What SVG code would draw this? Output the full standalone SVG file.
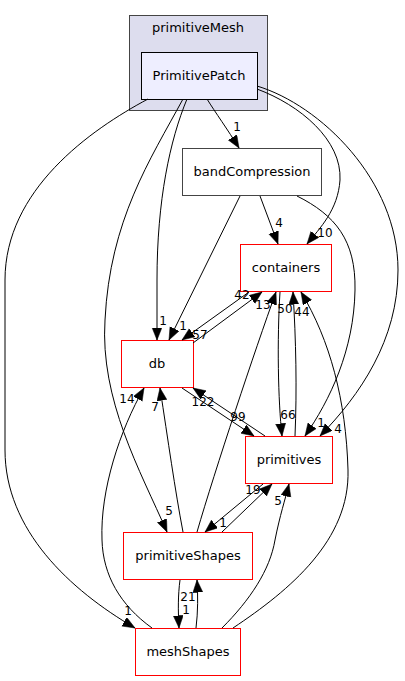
<svg xmlns="http://www.w3.org/2000/svg" width="405" height="681" viewBox="0 0 405 681">
<style>
text{font-family:"DejaVu Sans","Liberation Sans",sans-serif;fill:#000}
.n{font-size:13px;text-anchor:middle}
.l{font-size:12px;text-anchor:middle}
.e{fill:none;stroke:#000;stroke-width:1}
.r{fill:#fff;stroke:#ff0000;stroke-width:1}
</style>
<defs>
<marker id="a" markerWidth="14" markerHeight="11" refX="12.5" refY="5" orient="auto" markerUnits="userSpaceOnUse">
<path d="M0,0 L12.5,5 L0,10 z" fill="#000" stroke="#000" stroke-width="0.5"/>
</marker>
</defs>
<rect width="405" height="681" fill="#fff"/>
<g id="cluster_primitiveMesh">
<rect x="129.5" y="15.5" width="138" height="95" fill="#ddddee" stroke="#444444"/>
<text class="n" x="198" y="32">primitiveMesh</text>
</g>
<g id="PrimitivePatch">
<rect x="141.5" y="52.5" width="116" height="47" fill="#eeeeff" stroke="#000"/>
<text class="n" x="199" y="80">PrimitivePatch</text>
</g>
<g id="bandCompression">
<rect x="182.5" y="148.5" width="139" height="47" fill="#fff" stroke="#444444"/>
<text class="n" x="252" y="176">bandCompression</text>
</g>
<g id="containers">
<rect class="r" x="240.5" y="244.5" width="91" height="47"/>
<text class="n" x="286" y="272">containers</text>
</g>
<g id="db">
<rect class="r" x="121.5" y="340.5" width="72" height="47"/>
<text class="n" x="157" y="368">db</text>
</g>
<g id="primitives">
<rect class="r" x="245.5" y="436.5" width="87" height="47"/>
<text class="n" x="289" y="464">primitives</text>
</g>
<g id="primitiveShapes">
<rect class="r" x="123.5" y="532.5" width="129" height="47"/>
<text class="n" x="188" y="560">primitiveShapes</text>
</g>
<g id="meshShapes">
<rect class="r" x="135.5" y="628.5" width="105" height="47"/>
<text class="n" x="188" y="656">meshShapes</text>
</g>
<g id="connectors">
<path class="e" marker-end="url(#a)" d="M207,99 C215,112 228,130 239,148"/>
<text class="l" x="237" y="131">1</text>
<path class="e" marker-end="url(#a)" d="M257,89 C300,105 342,140 340,180 C338,210 320,228 307,244"/>
<text class="l" x="325" y="237">10</text>
<path class="e" marker-end="url(#a)" d="M257,86 C320,105 398,180 398,270 C398,340 360,395 320,436"/>
<text class="l" x="338" y="433">4</text>
<path class="e" marker-end="url(#a)" d="M187,99 C170,140 157,200 157,280 L157,340"/>
<text class="l" x="163" y="325">1</text>
<path class="e" marker-end="url(#a)" d="M183,99 C150,160 110,220 105,320 C100,400 140,470 167,532"/>
<text class="l" x="169" y="515">5</text>
<path class="e" marker-end="url(#a)" d="M148,99 C90,130 5,190 5,280 L5,450 C5,530 70,590 135,628"/>
<text class="l" x="128" y="615">1</text>
<path class="e" marker-end="url(#a)" d="M260,196 L278,244"/>
<text class="l" x="279" y="227">4</text>
<path class="e" marker-end="url(#a)" d="M240,196 L169,340"/>
<text class="l" x="183" y="330">1</text>
<path class="e" marker-end="url(#a)" d="M297,196 C335,215 356,240 355,290 C354,350 330,400 305,436"/>
<text class="l" x="321" y="427">1</text>
<path class="e" marker-end="url(#a)" d="M193,343 L262,292"/>
<text class="l" x="242" y="299">42</text>
<path class="e" marker-end="url(#a)" d="M249,292 L182,340"/>
<text class="l" x="200" y="339">57</text>
<path class="e" marker-end="url(#a)" d="M197,532 C215,470 255,350 276,292"/>
<text class="l" x="263" y="309">13</text>
<path class="e" marker-end="url(#a)" d="M280,292 C277,340 278,400 282,436"/>
<text class="l" x="288" y="419">66</text>
<path class="e" marker-end="url(#a)" d="M295,436 C297,390 296,340 293,292"/>
<text class="l" x="285" y="313">50</text>
<path class="e" marker-end="url(#a)" d="M233,628 C290,590 350,540 348,470 C346,400 330,340 301,292"/>
<text class="l" x="302" y="316">44</text>
<path class="e" marker-end="url(#a)" d="M182,388 L254,436"/>
<text class="l" x="238" y="421">99</text>
<path class="e" marker-end="url(#a)" d="M265,436 L193,388"/>
<text class="l" x="203" y="406">122</text>
<path class="e" marker-end="url(#a)" d="M152,628 C120,605 103,575 102,540 C100,490 120,430 144,388"/>
<text class="l" x="127" y="403">14</text>
<path class="e" marker-end="url(#a)" d="M183,532 C175,490 168,440 160,388"/>
<text class="l" x="155" y="411">7</text>
<path class="e" marker-end="url(#a)" d="M222,532 L272,484"/>
<text class="l" x="253" y="494">19</text>
<path class="e" marker-end="url(#a)" d="M263,484 L205,532"/>
<text class="l" x="223" y="527">1</text>
<path class="e" marker-end="url(#a)" d="M222,628 C250,600 270,570 275,540 C280,515 285,500 289,484"/>
<text class="l" x="278" y="505">5</text>
<path class="e" marker-end="url(#a)" d="M180,580 C178,595 178,610 179,628"/>
<text class="l" x="186" y="614">1</text>
<path class="e" marker-end="url(#a)" d="M196,628 C198,612 198,595 197,580"/>
<text class="l" x="188" y="601">21</text>
</g>
</svg>
